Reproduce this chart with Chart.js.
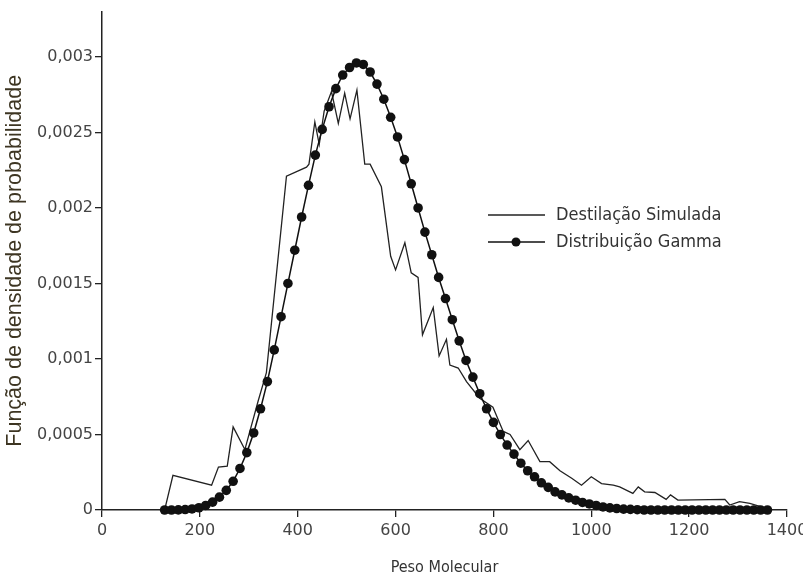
<!DOCTYPE html>
<html>
<head>
<meta charset="utf-8">
<script src="https://cdn.jsdelivr.net/npm/chart.js@4.4.1/dist/chart.umd.min.js"></script>
<style>
  html, body { margin: 0; padding: 0; background: #fff; }
</style>
</head>
<body>
<canvas id="grafico" width="803" height="583"></canvas>
<script>
// Eixos
const xTicks = [0, 200, 400, 600, 800, 1000, 1200, 1400]
const yTicks = [0, 0.0005, 0.001, 0.0015, 0.002, 0.0025, 0.003]

// Distribuição Gamma (pontos a cada 14 unidades de peso molecular)
const gammaPeso = [128, 142, 156, 170, 184, 198, 212, 226, 240, 254, 268, 282, 296, 310, 324, 338, 352, 366, 380, 394,
  408, 422, 436, 450, 464, 478, 492, 506, 520, 534, 548, 562, 576, 590, 604, 618, 632, 646, 660, 674,
  688, 702, 716, 730, 744, 758, 772, 786, 800, 814, 828, 842, 856, 870, 884, 898, 912, 926, 940, 954,
  968, 982, 996, 1010, 1024, 1038, 1052, 1066, 1080, 1094, 1108, 1122, 1136, 1150, 1164, 1178, 1192, 1206, 1220, 1234,
  1248, 1262, 1276, 1290, 1304, 1318, 1332, 1346, 1360]
const gammaDens = [0, 0, 0.000001, 0.000003, 0.000007, 0.000015, 0.00003, 0.000052, 0.000085, 0.00013,
  0.00019, 0.000275, 0.00038, 0.00051, 0.00067, 0.00085, 0.00106, 0.00128, 0.0015, 0.00172,
  0.00194, 0.00215, 0.00235, 0.00252, 0.00267, 0.00279, 0.00288, 0.00293, 0.00296, 0.00295,
  0.0029, 0.00282, 0.00272, 0.0026, 0.00247, 0.00232, 0.00216, 0.002, 0.00184, 0.00169,
  0.00154, 0.0014, 0.00126, 0.00112, 0.00099, 0.00088, 0.00077, 0.00067, 0.00058, 0.0005,
  0.00043, 0.00037, 0.00031, 0.00026, 0.00022, 0.00018, 0.00015, 0.00012, 0.0001, 0.00008,
  0.000065, 0.00005, 0.00004, 0.00003, 0.00002, 0.000014, 0.00001, 0.000006, 0.000004, 0.000002,
  0, 0, 0, 0, 0, 0, 0, 0, 0, 0,
  0, 0, 0, 0, 0, 0, 0, 0, 0]

// Destilação Simulada
const destPeso = [128, 145, 224, 238, 256, 268, 292, 319, 336, 377, 418, 423, 435, 444, 454, 469, 483, 496, 507, 521,
  537, 548, 571, 590, 600, 619, 632, 646, 655, 677, 689, 704, 711, 728, 745, 772, 799, 820, 834, 854,
  871, 895, 915, 936, 960, 980, 1000, 1021, 1045, 1058, 1085, 1096, 1109, 1130, 1153, 1162, 1177, 1273, 1283, 1303,
  1324, 1358]
const destDens = [0, 0.00023, 0.000164, 0.000284, 0.00029, 0.00055, 0.0004, 0.00072, 0.00091, 0.00221,
  0.00227, 0.00229, 0.00257, 0.00242, 0.00264, 0.00277, 0.00256, 0.00276, 0.00259, 0.00278,
  0.00229, 0.00229, 0.00214, 0.00168, 0.00159, 0.00177, 0.00157, 0.00154, 0.00116, 0.00134,
  0.00102, 0.00113, 0.00096, 0.00094, 0.00085, 0.00074, 0.00068, 0.00052, 0.0005, 0.0004,
  0.00046, 0.00032, 0.00032, 0.00026, 0.00021, 0.000164, 0.00022, 0.000175, 0.000164, 0.000153,
  0.00011, 0.000153, 0.00012, 0.000116, 0.00007, 0.0001, 0.000066, 0.00007, 0.000033, 0.000055,
  0.000044, 0.00001]

const fonteTicks = "'DejaVu Sans', sans-serif"
const fonteNarrow = "'Liberation Sans Narrow', 'DejaVu Sans Condensed', sans-serif"

// Legenda desenhada dentro do gráfico, como no original
const legendaPlugin = {
  id: 'legenda',
  afterDatasetsDraw(chart) {
    const ctx = chart.ctx
    const itens = [
      { ds: chart.data.datasets[0], y: 215, ponto: false },
      { ds: chart.data.datasets[1], y: 242, ponto: true }
    ]
    ctx.save()
    itens.forEach(it => {
      ctx.strokeStyle = it.ds.borderColor
      ctx.lineWidth = it.ds.borderWidth
      ctx.beginPath()
      ctx.moveTo(488, it.y)
      ctx.lineTo(545, it.y)
      ctx.stroke()
      if (it.ponto) {
        ctx.fillStyle = it.ds.pointBackgroundColor
        ctx.beginPath()
        ctx.arc(516, it.y, 4.5, 0, Math.PI * 2)
        ctx.fill()
      }
      ctx.fillStyle = '#333'
      ctx.font = '18px ' + fonteNarrow
      ctx.textBaseline = 'middle'
      ctx.textAlign = 'left'
      ctx.fillText(it.ds.label, 556, it.y)
    })
    ctx.restore()
  }
}

new Chart(document.getElementById('grafico'), {
  type: 'line',
  data: {
    datasets: [
      {
        label: 'Destilação Simulada',
        data: destPeso.map((x, i) => ({ x: x, y: destDens[i] })),
        borderColor: '#222',
        borderWidth: 1.3,
        pointRadius: 0,
        fill: false,
        tension: 0,
        order: 1
      },
      {
        label: 'Distribuição Gamma',
        data: gammaPeso.map((x, i) => ({ x: x, y: gammaDens[i] })),
        borderColor: '#111',
        borderWidth: 1.5,
        pointRadius: 4.8,
        pointBackgroundColor: '#111',
        pointBorderWidth: 0,
        fill: false,
        tension: 0,
        clip: false,
        order: 0
      }
    ]
  },
  options: {
    responsive: false,
    animation: false,
    devicePixelRatio: 1,
    layout: { padding: { top: 6, right: 16, left: 0, bottom: 0 } },
    plugins: {
      legend: { display: false },
      tooltip: { enabled: false }
    },
    scales: {
      x: {
        type: 'linear',
        min: 0,
        max: 1400,
        afterBuildTicks: s => { s.ticks = xTicks.map(v => ({ value: v })) },
        afterFit: s => { s.height = 73; s.paddingRight = 0; s.paddingLeft = 0 },
        ticks: {
          font: { family: fonteTicks, size: 16 },
          color: '#444',
          padding: 4,
          maxRotation: 0,
          callback: v => String(v)
        },
        grid: { display: true, drawOnChartArea: false, drawTicks: true, tickLength: 7, color: '#222', lineWidth: 1.3 },
        border: { display: true, color: '#222', width: 1.5 },
        title: {
          display: true,
          text: 'Peso Molecular',
          color: '#333',
          font: { family: fonteNarrow, size: 16 },
          padding: { top: 6, bottom: 6 }
        }
      },
      y: {
        type: 'linear',
        min: 0,
        max: 0.0033,
        afterBuildTicks: s => { s.ticks = yTicks.map(v => ({ value: v })) },
        afterFit: s => { s.width = 102 },
        ticks: {
          font: { family: fonteTicks, size: 16 },
          color: '#444',
          padding: 2,
          callback: v => String(v).replace('.', ',')
        },
        grid: { display: true, drawOnChartArea: false, drawTicks: true, tickLength: 7, color: '#222', lineWidth: 1.3 },
        border: { display: true, color: '#222', width: 1.5 },
        title: {
          display: true,
          text: 'Função de densidade de probabilidade',
          color: '#3d3522',
          font: { family: "'Liberation Sans', sans-serif", size: 21.5 },
          padding: { top: 2, bottom: 0 }
        }
      }
    }
  },
  plugins: [legendaPlugin]
})
</script>
</body>
</html>
